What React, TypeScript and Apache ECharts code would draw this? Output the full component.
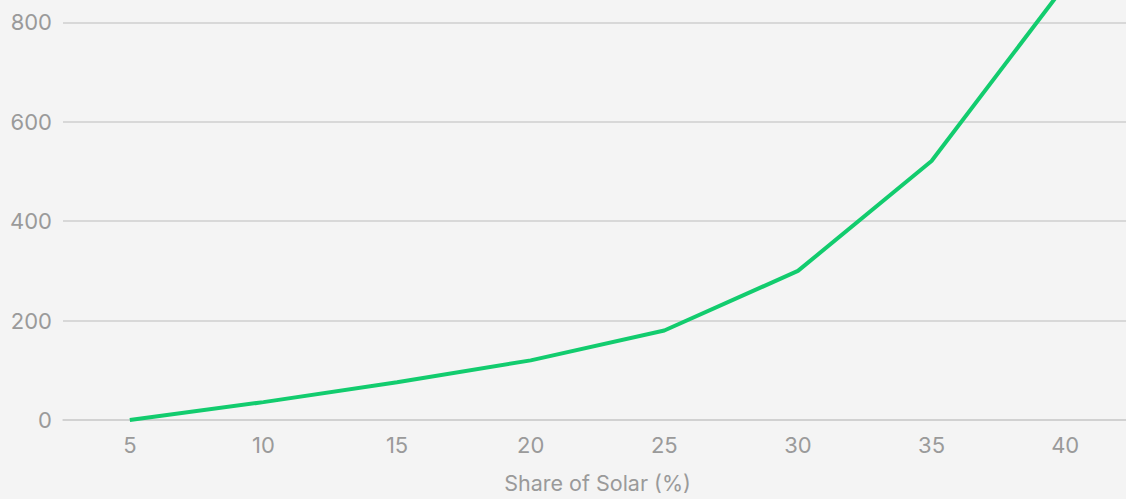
import React, { useEffect, useRef } from "react";
import * as echarts from "echarts";

const solarShare = ["5", "10", "15", "20", "25", "30", "35", "40"];
const costValues = [0, 36, 76, 120, 180, 300, 521, 875];
const yMin = 0;
const yMax = 1000;
const yStep = 200;
const yLabelLimit = 800;

const TEXT = "#9a9a9a";
const RULE = "#cfcfcf";
const GREEN = "#12cc6e";
const FONT = "Inter, 'Noto Sans', sans-serif";

// The plot runs past the frame at the top and right; the frame crops it.
const FRAME_W = 1126;
const FRAME_H = 499;
const OVER_TOP = 77;
const OVER_RIGHT = 6;

export default function App() {
  const ref = useRef<HTMLDivElement>(null);

  useEffect(() => {
    document.body.style.margin = "0";
    const chart = echarts.init(ref.current!, null, { renderer: "svg" });
    chart.setOption({
      animation: false,
      backgroundColor: "#f4f4f4",
      grid: { left: 63, right: 0, top: 0, bottom: 75, containLabel: false },
      xAxis: {
        type: "category",
        data: solarShare,
        boundaryGap: true,
        name: "Share of Solar (%)",
        nameLocation: "middle",
        nameGap: 52,
        nameTextStyle: { color: TEXT, fontFamily: FONT, fontSize: 21.5 },
        axisLine: { lineStyle: { color: RULE, width: 1.5 } },
        axisTick: { alignWithLabel: true, length: 6, lineStyle: { color: RULE, width: 1.5 } },
        axisLabel: { color: TEXT, fontFamily: FONT, fontSize: 22, margin: 14 },
        splitLine: { show: false },
      },
      yAxis: {
        type: "value",
        min: yMin,
        max: yMax,
        interval: yStep,
        axisLine: { show: false },
        axisTick: { show: false },
        axisLabel: {
          color: TEXT,
          fontFamily: FONT,
          fontSize: 22,
          margin: 11,
          formatter: (v: number) => (v > yLabelLimit ? "" : String(v)),
        },
        splitLine: { lineStyle: { color: RULE, width: 1.5 } },
      },
      series: [
        {
          type: "line",
          data: costValues,
          symbol: "none",
          lineStyle: { color: GREEN, width: 4 },
        },
      ],
    });
    return () => chart.dispose();
  }, []);

  return (
    <div
      style={{
        position: "fixed",
        left: 0,
        top: 0,
        width: FRAME_W,
        height: FRAME_H,
        overflow: "hidden",
        background: "#f4f4f4",
      }}
    >
      <div
        ref={ref}
        style={{
          position: "absolute",
          left: 0,
          top: -OVER_TOP,
          width: FRAME_W + OVER_RIGHT,
          height: FRAME_H + OVER_TOP,
        }}
      />
    </div>
  );
}
